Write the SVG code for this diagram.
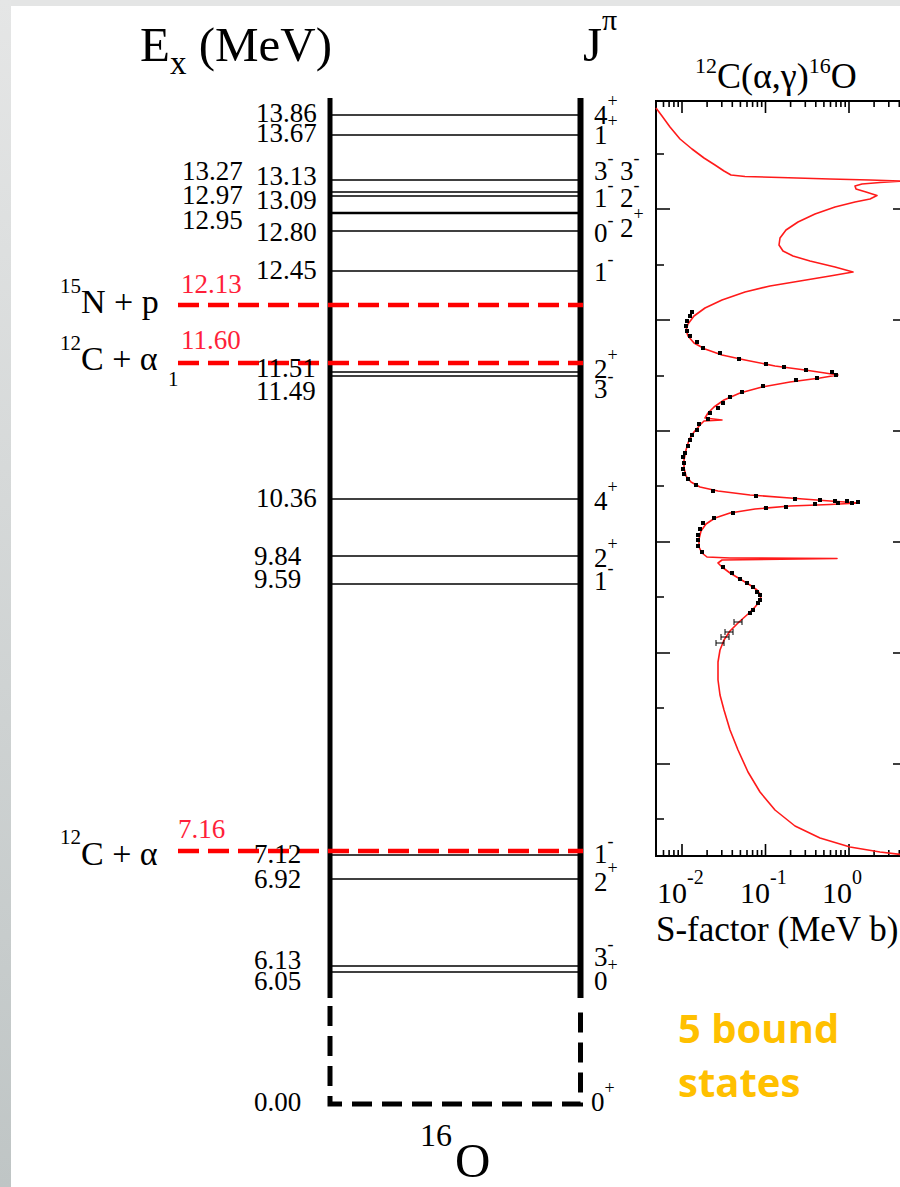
<svg xmlns="http://www.w3.org/2000/svg" xmlns:xlink="http://www.w3.org/1999/xlink" width="900" height="1187" viewBox="0 0 900 1187">
<defs>
<linearGradient id="lg" x1="0" y1="0" x2="0" y2="1">
<stop offset="0" stop-color="#e5e6e6"/>
<stop offset="1" stop-color="#bfc5c5"/>
</linearGradient>
<rect id="pt" x="-2" y="-2" width="4" height="4" fill="#000"/>
<path id="eb" d="M-4,0H4M-4,-3V3M4,-3V3" stroke="#000" stroke-width="1" fill="none"/>
</defs>
<style>
.t{font-family:"Liberation Serif","Times New Roman",serif;fill:#000}
.lab{font-size:27px}
.jp{font-size:27px}
.sup{font-size:18px}
.red{fill:#ff1f3a}
.lvl{stroke:#000;stroke-width:1.4}
.thr{stroke:#ff0000;stroke-width:4.5;stroke-dasharray:21 9;fill:none}
.ax{stroke:#000;stroke-width:2;fill:none}
.tk{stroke:#000;stroke-width:1.6;fill:none}
.note{font-family:"Open Sans","Noto Sans",sans-serif;font-weight:bold;font-size:40px;fill:#ffc000}
</style>
<rect width="900" height="1187" fill="#fff"/>
<rect width="900" height="6" fill="#e4e5e5"/>
<rect width="11" height="1187" fill="url(#lg)"/>

<g id="headers" class="t">
<text x="140" y="61" font-size="49">E<tspan font-size="33" dy="13">x</tspan><tspan dy="-13"> (MeV)</tspan></text>
<text x="583" y="61" font-size="49">J<tspan font-size="30" dy="-31">π</tspan></text>
<text x="695" y="88" font-size="36"><tspan font-size="22" dy="-15">12</tspan><tspan dy="15">C(α,γ)</tspan><tspan font-size="22" dy="-15">16</tspan><tspan dy="15">O</tspan></text>
</g>

<g id="frame">
<line x1="330" y1="98" x2="330" y2="998" stroke="#000" stroke-width="5"/>
<line x1="580.5" y1="98" x2="580.5" y2="998" stroke="#000" stroke-width="6"/>
<path d="M330,1006V1104H580.5V1006" stroke="#000" stroke-width="5" fill="none" stroke-dasharray="20 10"/>
</g>

<g id="levels">
<line class="lvl" x1="330" y1="115" x2="580" y2="115"/>
<line class="lvl" x1="330" y1="135" x2="580" y2="135"/>
<line class="lvl" x1="330" y1="180" x2="580" y2="180"/>
<line class="lvl" x1="330" y1="192" x2="580" y2="192"/>
<line class="lvl" x1="330" y1="196" x2="580" y2="196"/>
<line class="lvl" x1="330" y1="213" x2="580" y2="213" style="stroke-width:2.6"/>
<line class="lvl" x1="330" y1="231" x2="580" y2="231"/>
<line class="lvl" x1="330" y1="271" x2="580" y2="271"/>
<line class="lvl" x1="330" y1="372" x2="580" y2="372"/>
<line class="lvl" x1="330" y1="376" x2="580" y2="376"/>
<line class="lvl" x1="330" y1="499" x2="580" y2="499"/>
<line class="lvl" x1="330" y1="556" x2="580" y2="556"/>
<line class="lvl" x1="330" y1="584" x2="580" y2="584"/>
<line class="lvl" x1="330" y1="855" x2="580" y2="855"/>
<line class="lvl" x1="330" y1="879" x2="580" y2="879"/>
<line class="lvl" x1="330" y1="966" x2="580" y2="966"/>
<line class="lvl" x1="330" y1="972" x2="580" y2="972"/>
</g>

<g id="thresholds">
<line class="thr" x1="178" y1="305" x2="583" y2="305"/>
<line class="thr" x1="178" y1="363" x2="583" y2="363"/>
<line class="thr" x1="178" y1="851" x2="583" y2="851"/>
</g>

<g id="energy-labels" class="t lab">
<text x="256" y="122">13.86</text>
<text x="256" y="142">13.67</text>
<text x="182" y="180">13.27</text>
<text x="256" y="185">13.13</text>
<text x="182" y="204">12.97</text>
<text x="256" y="209">13.09</text>
<text x="182" y="229">12.95</text>
<text x="256" y="241">12.80</text>
<text x="256" y="279">12.45</text>
<text x="256" y="377">11.51</text>
<text x="256" y="400">11.49</text>
<text x="256" y="507">10.36</text>
<text x="254" y="565">9.84</text>
<text x="254" y="588">9.59</text>
<text x="254" y="863">7.12</text>
<text x="254" y="888">6.92</text>
<text x="254" y="969">6.13</text>
<text x="254" y="990">6.05</text>
<text x="254" y="1111">0.00</text>
</g>

<g id="threshold-labels" class="t lab red">
<text x="181" y="293">12.13</text>
<text x="181" y="349">11.60</text>
<text x="178" y="838">7.16</text>
</g>

<g id="channels" class="t" font-size="34">
<text x="60" y="313"><tspan font-size="21" dy="-20">15</tspan><tspan dy="20">N + p</tspan></text>
<text x="60" y="370"><tspan font-size="21" dy="-20">12</tspan><tspan dy="20">C + α</tspan><tspan font-size="21" x="168" dy="16">1</tspan></text>
<text x="60" y="865"><tspan font-size="21" dy="-21">12</tspan><tspan dy="21">C + α</tspan></text>
</g>

<g id="jpi-labels" class="t jp">
<text x="594" y="124">4<tspan class="sup" dy="-17">+</tspan></text>
<text x="594" y="144">1<tspan class="sup" dy="-17">+</tspan></text>
<text x="594" y="180">3<tspan class="sup" dy="-16">-</tspan></text>
<text x="620" y="180">3<tspan class="sup" dy="-16">-</tspan></text>
<text x="594" y="207">1<tspan class="sup" dy="-16">-</tspan></text>
<text x="620" y="207">2<tspan class="sup" dy="-16">-</tspan></text>
<text x="594" y="242">0<tspan class="sup" dy="-16">-</tspan></text>
<text x="620" y="237">2<tspan class="sup" dy="-17">+</tspan></text>
<text x="594" y="281">1<tspan class="sup" dy="-16">-</tspan></text>
<text x="594" y="378">2<tspan class="sup" dy="-17">+</tspan></text>
<text x="594" y="398">3<tspan class="sup" dy="-16">-</tspan></text>
<text x="594" y="510">4<tspan class="sup" dy="-17">+</tspan></text>
<text x="594" y="567">2<tspan class="sup" dy="-17">+</tspan></text>
<text x="594" y="590">1<tspan class="sup" dy="-16">-</tspan></text>
<text x="594" y="863">1<tspan class="sup" dy="-16">-</tspan></text>
<text x="594" y="891">2<tspan class="sup" dy="-17">+</tspan></text>
<text x="594" y="966">3<tspan class="sup" dy="-16">-</tspan></text>
<text x="594" y="990">0<tspan class="sup" dy="-19">+</tspan></text>
<text x="591" y="1111">0<tspan class="sup" dy="-17">+</tspan></text>
</g>

<g id="nucleus-label" class="t">
<text x="420" y="1146" font-size="32">16</text>
<text x="455" y="1177" font-size="49">O</text>
</g>

<g id="plot">
<path class="ax" d="M656,101V856M655,101H905M655,856H905"/>
<path class="tk" d="M682,101v12M765.5,101v12M849,101v12M682,856v-12M765.5,856v-12M849,856v-12"/>
<path class="tk" d="M663.5,101v6M669.1,101v6M673.9,101v6M678.2,101v6M707.1,101v6M721.8,101v6M732.3,101v6M740.4,101v6M747,101v6M752.6,101v6M757.4,101v6M761.7,101v6M790.6,101v6M805.3,101v6M815.8,101v6M823.9,101v6M830.5,101v6M836.1,101v6M840.9,101v6M845.2,101v6M874.1,101v6M888.8,101v6M899.3,101v6"/>
<path class="tk" d="M663.5,856v-6M669.1,856v-6M673.9,856v-6M678.2,856v-6M707.1,856v-6M721.8,856v-6M732.3,856v-6M740.4,856v-6M747,856v-6M752.6,856v-6M757.4,856v-6M761.7,856v-6M790.6,856v-6M805.3,856v-6M815.8,856v-6M823.9,856v-6M830.5,856v-6M836.1,856v-6M840.9,856v-6M845.2,856v-6M874.1,856v-6M888.8,856v-6M899.3,856v-6"/>
<path class="tk" d="M656,209h14M656,320h14M656,431h14M656,542h14M656,653h14M656,764h14M656,154h8M656,265h8M656,376h8M656,486h8M656,597h8M656,708h8M656,819h8"/>
<path class="tk" d="M893,209h14M893,320h14M893,431h14M893,542h14M893,653h14M893,764h14"/>
<path fill="none" stroke="#ff1a1a" stroke-width="1.6" stroke-linejoin="round" d="M656,108 L662,116 L670,127 L680,139 L692,149 L704,158 L715,165 L724,171 L731,175 L745,176.5 L780,177.5 L830,179 L870,180 L902,181 L880,182.5 L862,184 L855,186 L856,189 L866,192 L877,195.5 L870,199 L855,202 L835,207 L815,214 L798,222 L786,230 L780,238 L779,245 L783,251 L793,256 L810,261 L835,267 L853,272 L830,276 L800,281 L770,286 L745,292 L722,300 L705,308 L694,316 L688,324 L686,330 L688,336 L694,343 L705,349 L722,355 L745,360 L775,366 L805,370 L825,373 L838,375 L820,378 L790,382 L762,387 L740,393 L724,400 L714,407 L708,413 L705,418 L722,420 L704,421 L700,425 L694,432 L689,440 L686,450 L684,460 L684,468 L686,476 L691,482 L700,487 L718,491 L750,495 L790,498 L830,501 L859,503 L830,504.5 L790,506 L755,509 L730,513 L715,518 L706,524 L701,531 L699,539 L699,547 L702,553 L707,557 L730,558 L837,558.5 L722,560 L718,563 L722,567 L730,573 L740,579 L750,585 L757,590 L761,595 L760,601 L755,607 L748,614 L739,622 L730,631 L724,640 L720,650 L718,662 L718,680 L720,695 L724,710 L730,730 L738,750 L748,772 L760,792 L775,810 L795,826 L820,838 L850,847 L880,852 L905,855"/>
<g id="data">
<use xlink:href="#pt" x="692" y="312"/><use xlink:href="#pt" x="690" y="316"/><use xlink:href="#pt" x="687" y="321"/><use xlink:href="#pt" x="686" y="326"/><use xlink:href="#pt" x="687" y="331"/><use xlink:href="#pt" x="690" y="336"/><use xlink:href="#pt" x="697" y="342"/><use xlink:href="#pt" x="703" y="348"/><use xlink:href="#pt" x="720" y="353"/><use xlink:href="#pt" x="739" y="359"/><use xlink:href="#pt" x="766" y="364"/><use xlink:href="#pt" x="784" y="367"/><use xlink:href="#pt" x="806" y="370"/><use xlink:href="#pt" x="832" y="372"/><use xlink:href="#pt" x="836" y="375"/><use xlink:href="#pt" x="817" y="378"/><use xlink:href="#pt" x="796" y="380"/><use xlink:href="#pt" x="763" y="386"/><use xlink:href="#pt" x="742" y="392"/><use xlink:href="#pt" x="730" y="397"/><use xlink:href="#pt" x="723" y="403"/><use xlink:href="#pt" x="718" y="408"/><use xlink:href="#pt" x="710" y="413"/><use xlink:href="#pt" x="708" y="419"/><use xlink:href="#pt" x="699" y="424"/><use xlink:href="#pt" x="697" y="430"/><use xlink:href="#pt" x="692" y="435"/><use xlink:href="#pt" x="690" y="440"/><use xlink:href="#pt" x="688" y="446"/><use xlink:href="#pt" x="685" y="453"/><use xlink:href="#pt" x="683" y="457"/><use xlink:href="#pt" x="684" y="463"/><use xlink:href="#pt" x="683" y="469"/><use xlink:href="#pt" x="684" y="474"/><use xlink:href="#pt" x="688" y="479"/><use xlink:href="#pt" x="696" y="485"/><use xlink:href="#pt" x="713" y="491"/><use xlink:href="#pt" x="756" y="496"/><use xlink:href="#pt" x="795" y="499"/><use xlink:href="#pt" x="820" y="500"/><use xlink:href="#pt" x="835" y="501"/><use xlink:href="#pt" x="838" y="503"/><use xlink:href="#pt" x="847" y="501"/><use xlink:href="#pt" x="852" y="503"/><use xlink:href="#pt" x="858" y="502"/><use xlink:href="#pt" x="815" y="504"/><use xlink:href="#pt" x="786" y="507"/><use xlink:href="#pt" x="766" y="508"/><use xlink:href="#pt" x="733" y="513"/><use xlink:href="#pt" x="714" y="518"/><use xlink:href="#pt" x="703" y="523"/><use xlink:href="#pt" x="700" y="529"/><use xlink:href="#pt" x="698" y="535"/><use xlink:href="#pt" x="698" y="540"/><use xlink:href="#pt" x="698" y="546"/><use xlink:href="#pt" x="702" y="552"/><use xlink:href="#pt" x="723" y="567"/><use xlink:href="#pt" x="732" y="573"/><use xlink:href="#pt" x="740" y="579"/><use xlink:href="#pt" x="747" y="583"/><use xlink:href="#pt" x="753" y="587"/><use xlink:href="#pt" x="757" y="592"/><use xlink:href="#pt" x="760" y="595"/><use xlink:href="#pt" x="760" y="600"/><use xlink:href="#pt" x="758" y="603"/><use xlink:href="#pt" x="753" y="610"/><use xlink:href="#pt" x="750" y="613"/>
<use xlink:href="#eb" x="738" y="622"/><use xlink:href="#eb" x="729" y="632"/><use xlink:href="#eb" x="725" y="637"/><use xlink:href="#eb" x="720" y="643"/>
</g>
<g class="t">
<text x="657" y="903" font-size="30">10<tspan font-size="20" dy="-19">-2</tspan></text>
<text x="740" y="903" font-size="30">10<tspan font-size="20" dy="-19">-1</tspan></text>
<text x="822" y="903" font-size="30">10<tspan font-size="20" dy="-19">0</tspan></text>
<text x="656" y="941" font-size="35">S-factor (MeV b)</text>
</g>
</g>

<g id="bound-note">
<text class="note" x="678" y="1043">5 bound</text>
<text class="note" x="678" y="1097">states</text>
</g>
</svg>
